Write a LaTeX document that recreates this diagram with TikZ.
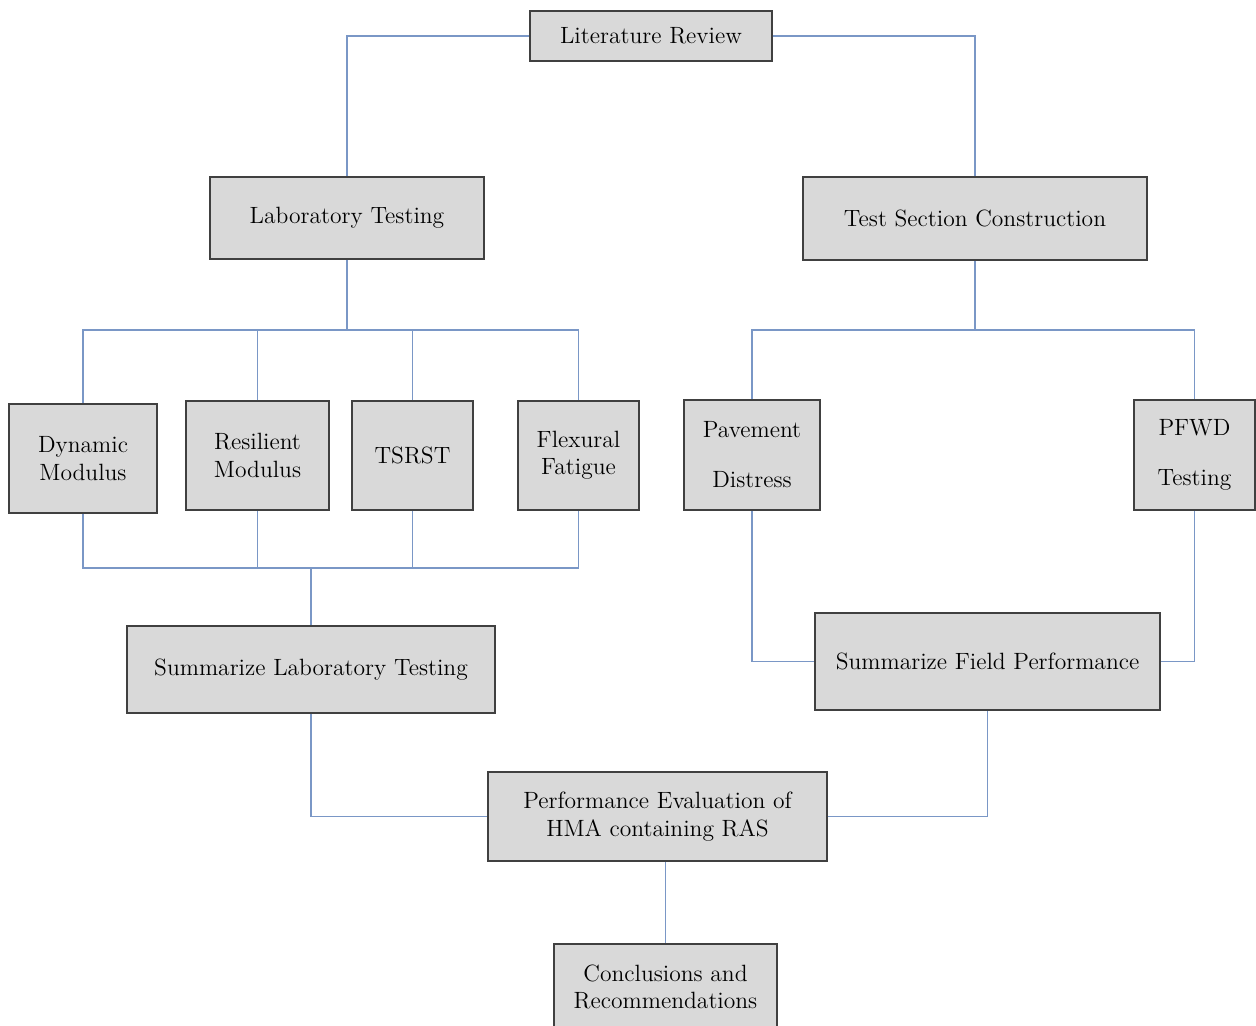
\documentclass[tikz,border=0pt]{standalone}
\usepackage{tikz}
\definecolor{conncol}{HTML}{7A97C6}
\definecolor{boxfill}{HTML}{D9D9D9}
\definecolor{boxline}{HTML}{404040}
\begin{document}
\begin{tikzpicture}[x=0.02cm,y=-0.02cm,
  box/.style={draw=boxline,fill=boxfill,line width=1pt,inner sep=0pt,align=center,font=\fontsize{13.4}{15.5}\selectfont},
  conn/.style={draw=conncol,line width=0.8pt}]
\useasboundingbox (0,0) rectangle (1256,1025);
\node[box,minimum width=4.84cm,minimum height=1.0cm] (lit) at (651,36) {Literature Review};
\node[box,minimum width=5.48cm,minimum height=1.64cm] (lab) at (347,218) {Laboratory Testing};
\node[box,minimum width=6.88cm,minimum height=1.66cm] (tsc) at (975,218.5) {Test Section Construction};
\node[box,minimum width=2.96cm,minimum height=2.18cm] (dyn) at (83,458.5) {Dynamic\\Modulus};
\node[box,minimum width=2.86cm,minimum height=2.18cm] (res) at (257.5,455.5) {Resilient\\Modulus};
\node[box,minimum width=2.42cm,minimum height=2.18cm] (tsr) at (412.5,455.5) {TSRST};
\node[box,minimum width=2.42cm,minimum height=2.18cm] (flex) at (578.5,455.5) {Flexural\\Fatigue};
\node[box,minimum width=2.72cm,minimum height=2.2cm] (pav) at (752,455) {Pavement\\[13pt]Distress};
\node[box,minimum width=2.42cm,minimum height=2.2cm] (pfwd) at (1194.5,455) {PFWD\\[13pt]Testing};
\node[box,minimum width=7.36cm,minimum height=1.74cm] (sumlab) at (311,669.5) {Summarize Laboratory Testing};
\node[box,minimum width=6.9cm,minimum height=1.94cm] (sumfield) at (987.5,661.5) {Summarize Field Performance};
\node[box,minimum width=6.78cm,minimum height=1.78cm] (perf) at (657.5,816.5) {Performance Evaluation of\\HMA containing RAS};
\node[box,minimum width=4.46cm,minimum height=1.72cm] (concl) at (665.5,987) {Conclusions and\\Recommendations};
\coordinate (labbus) at (347,330);
\coordinate (labbus2) at (311,568);
\coordinate (tbus) at (975,330);
\draw[conn] (lit.west) -| (lab.north);
\draw[conn] (lit.east) -| (tsc.north);
\draw[conn] (lab.south) -- (labbus);
\draw[conn] (dyn.north) |- (labbus);
\draw[conn] (flex.north) |- (labbus);
\draw[conn] (res.north) -- (res.north |- labbus);
\draw[conn] (tsr.north) -- (tsr.north |- labbus);
\draw[conn] (dyn.south) |- (labbus2);
\draw[conn] (flex.south) |- (labbus2);
\draw[conn] (res.south) -- (res.south |- labbus2);
\draw[conn] (tsr.south) -- (tsr.south |- labbus2);
\draw[conn] (sumlab.north |- labbus2) -- (sumlab.north);
\draw[conn] (tsc.south) -- (tbus);
\draw[conn] (pav.north) |- (tbus);
\draw[conn] (pfwd.north) |- (tbus);
\draw[conn] (pav.south) |- (sumfield.west);
\draw[conn] (pfwd.south) |- (sumfield.east);
\draw[conn] (sumlab.south) |- (perf.west);
\draw[conn] (sumfield.south) |- (perf.east);
\draw[conn] (concl.north |- perf.south) -- (concl.north);
\end{tikzpicture}
\end{document}
